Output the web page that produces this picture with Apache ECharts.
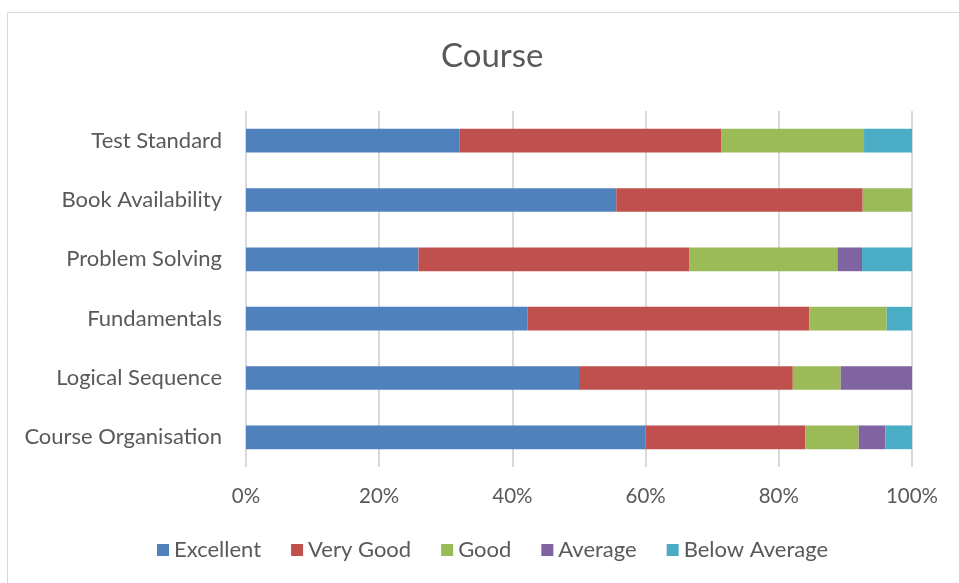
<!DOCTYPE html>
<html>
<head>
<meta charset="utf-8">
<script src="https://cdn.jsdelivr.net/npm/echarts@6/dist/echarts.min.js"></script>
<style>
html, body { margin: 0; padding: 0; background: #fff; }
#chart { width: 959px; height: 583px; }
</style>
</head>
<body>
<div id="chart"></div>
<script>
// categories, bottom to top
var categories = ['Course Organisation', 'Logical Sequence', 'Fundamentals', 'Problem Solving', 'Book Availability', 'Test Standard'];
var seriesNames = ['Excellent', 'Very Good', 'Good', 'Average', 'Below Average'];
var colors = ['#4F81BD', '#C0504D', '#9BBB59', '#8064A2', '#4BACC6'];

// percent share per category
var excellent = [60, 50, 42.3, 25.9, 55.6, 32.1];
var veryGood = [24, 32.1, 42.3, 40.7, 37.0, 39.3];
var good = [8, 7.2, 11.6, 22.2, 7.4, 21.4];
var average = [4, 10.7, 0, 3.7, 0, 0];
var belowAverage = [4, 0, 3.8, 7.5, 0, 7.2];

var values = [excellent, veryGood, good, average, belowAverage];
var font = 'Lato, "Open Sans", sans-serif';

var myChart = echarts.init(document.getElementById('chart'));

myChart.setOption({
    animation: false,
    color: colors,
    textStyle: { fontFamily: font },
    title: {
        text: 'Course',
        left: 436,
        top: 35,
        textStyle: { color: '#595959', fontSize: 33, fontWeight: 'normal', fontFamily: font }
    },
    legend: {
        bottom: 17,
        left: 152,
        itemWidth: 12,
        itemHeight: 12,
        itemGap: 30,
        icon: 'rect',
        textStyle: { color: '#595959', fontSize: 22, fontFamily: font },
        data: seriesNames
    },
    grid: {
        left: 246,
        right: 47,
        top: 111,
        bottom: 116
    },
    xAxis: {
        type: 'value',
        min: 0,
        max: 100,
        interval: 20,
        axisLine: { show: false },
        axisTick: { show: false },
        axisLabel: {
            formatter: '{value}%',
            color: '#595959',
            fontSize: 20.5,
            margin: 19,
            fontFamily: font
        },
        splitLine: { lineStyle: { color: '#D9D9D9', width: 2 } }
    },
    yAxis: {
        type: 'category',
        data: categories,
        axisLine: { show: false },
        axisTick: { show: false },
        axisLabel: {
            color: '#595959',
            fontSize: 22,
            margin: 24,
            fontFamily: font
        }
    },
    graphic: [{
        type: 'rect',
        shape: { x: 7.5, y: 12.5, width: 960, height: 580 },
        style: { fill: 'none', stroke: '#D9D9D9', lineWidth: 1 },
        silent: true
    }],
    series: seriesNames.map(function (name, i) {
        return {
            name: name,
            type: 'bar',
            stack: 'total',
            barCategoryGap: '60%',
            data: values[i]
        };
    })
});
</script>
</body>
</html>
